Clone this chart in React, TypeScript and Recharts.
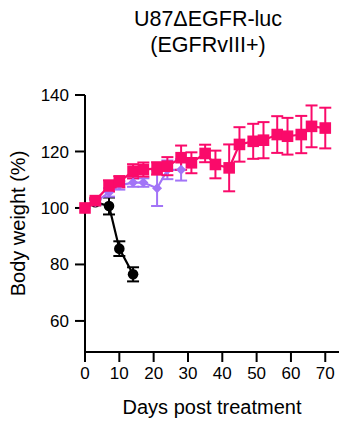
import { ErrorBar, Label, Line, LineChart, XAxis, YAxis } from "recharts";

const FONT = "'Liberation Sans', Arial, Helvetica, sans-serif";

// ΔEGFR-luc cohorts, body weight (% of day 0), mean ± SD
const blackDays = [0, 3, 7, 10, 14];
const blackWeight = [100, 102, 100.7, 85.6, 76.5];
const blackSd = [0, 1, 3, 2.6, 2.5];

const purpleDays = [0, 3, 7, 10, 14, 17, 21, 24, 28];
const purpleWeight = [100, 102, 105.5, 108, 109, 109, 107, 113.5, 113.5];
const purpleSd = [0, 1, 1.5, 1.5, 1.5, 1.5, 6.3, 3.3, 3.8];

const pinkDays = [0, 3, 7, 10, 14, 17, 21, 24, 28, 31, 35, 38, 42, 45, 49, 52, 56, 59, 63, 66, 70];
const pinkWeight = [
  100, 102.6, 107.8, 109.3, 113, 113.6, 114, 114.8, 117.8, 116, 119.3, 115.4, 114.2, 122.5, 123.6, 124,
  126, 125.4, 126, 128.9, 128.3,
];
const pinkSd = [0, 1, 2, 2, 2.5, 2.5, 2.2, 3.2, 4.3, 3.7, 3.1, 4.9, 8.3, 6.1, 6.2, 6.4, 6.5, 6.5, 6.6, 7.4, 7.2];

const xTicks = [0, 10, 20, 30, 40, 50, 60, 70];
const yTicks = [60, 80, 100, 120, 140];

const BLACK = "#000000";
const PURPLE = "#A274F7";
const PINK = "#FA0A6A";

const toRows = (days: number[], w: number[], sd: number[]) =>
  days.map((day, i) => ({ day, w: w[i], sd: sd[i] }));

const blackData = toRows(blackDays, blackWeight, blackSd);
const purpleData = toRows(purpleDays, purpleWeight, purpleSd);
const pinkData = toRows(pinkDays, pinkWeight, pinkSd);

const circleDot = (p: any) => (
  <circle key={`c${p.index}`} cx={p.cx} cy={p.cy} r={5.3} fill={BLACK} />
);
const diamondDot = (p: any) => (
  <path
    key={`d${p.index}`}
    d={`M${p.cx},${p.cy - 5} L${p.cx + 5},${p.cy} L${p.cx},${p.cy + 5} L${p.cx - 5},${p.cy} Z`}
    fill={PURPLE}
  />
);
const squareDot = (p: any) => (
  <rect key={`s${p.index}`} x={p.cx - 5.8} y={p.cy - 5.8} width={11.6} height={11.6} fill={PINK} />
);

const axisStroke = { stroke: "#000", strokeWidth: 2 };
const tickStyle = { fill: "#000", fontSize: 17, fontFamily: FONT };

export default function App() {
  return (
    <div style={{ position: "absolute", left: 0, top: 0, width: 346, height: 423, background: "#fff", fontFamily: FONT }}>
      <div
        style={{
          position: "absolute",
          left: 108,
          top: 5.5,
          width: 200,
          textAlign: "center",
          fontSize: 21.5,
          lineHeight: "26.5px",
          whiteSpace: "nowrap",
          color: "#000",
        }}
      >
        <div>U87ΔEGFR-luc</div>
        <div>(EGFRvIII+)</div>
      </div>
      <LineChart width={346} height={423} margin={{ top: 95, right: 7, bottom: 41, left: 25 }}>
        <XAxis
          type="number"
          dataKey="day"
          domain={[0, 74]}
          ticks={xTicks}
          height={30}
          axisLine={axisStroke}
          tickLine={axisStroke}
          tickSize={10}
          tickMargin={5}
          tick={tickStyle}
          allowDuplicatedCategory={false}
        >
          <Label value="Days post treatment" position="bottom" offset={18} style={{ fill: "#000", fontSize: 20, fontFamily: FONT }} />
        </XAxis>
        <YAxis
          type="number"
          domain={[49, 140]}
          ticks={yTicks}
          width={60}
          axisLine={axisStroke}
          tickLine={axisStroke}
          tickSize={10}
          tickMargin={6}
          tick={tickStyle}
        >
          <Label
            value="Body weight (%)"
            angle={-90}
            position="insideLeft"
            offset={-7}
            style={{ fill: "#000", fontSize: 20, fontFamily: FONT, textAnchor: "middle" }}
          />
        </YAxis>
        <Line
          data={blackData}
          dataKey="w"
          stroke={BLACK}
          strokeWidth={2.2}
          dot={circleDot}
          activeDot={false}
          isAnimationActive={false}
        >
          <ErrorBar dataKey="sd" width={6} strokeWidth={2} stroke={BLACK} direction="y" />
        </Line>
        <Line
          data={purpleData}
          dataKey="w"
          stroke={PURPLE}
          strokeWidth={2.2}
          dot={diamondDot}
          activeDot={false}
          isAnimationActive={false}
        >
          <ErrorBar dataKey="sd" width={6} strokeWidth={2} stroke={PURPLE} direction="y" />
        </Line>
        <Line
          data={pinkData}
          dataKey="w"
          stroke={PINK}
          strokeWidth={2.2}
          dot={squareDot}
          activeDot={false}
          isAnimationActive={false}
        >
          <ErrorBar dataKey="sd" width={6} strokeWidth={2} stroke={PINK} direction="y" />
        </Line>
      </LineChart>
    </div>
  );
}
